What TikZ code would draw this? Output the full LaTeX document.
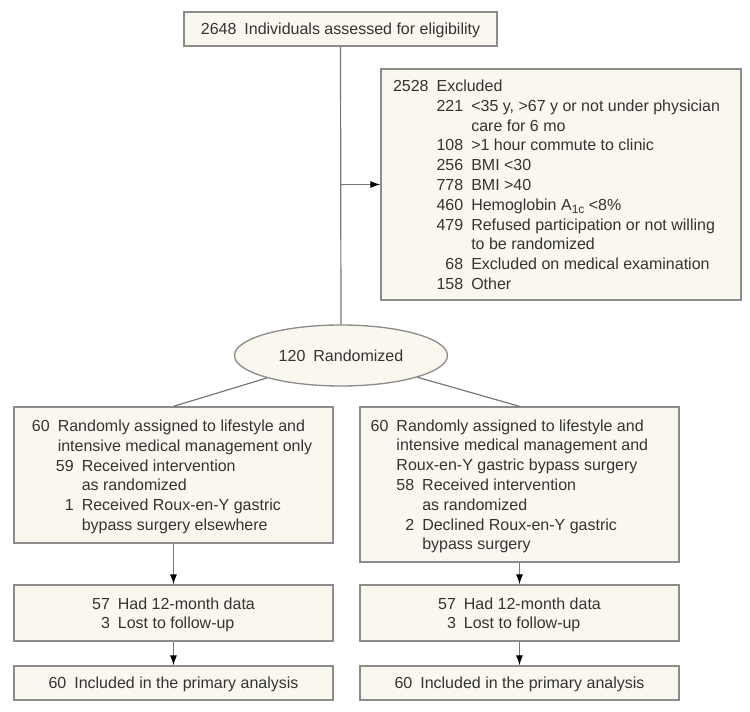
\documentclass[tikz,border=0pt]{standalone}
\usepackage{fontspec}
\setmainfont{Liberation Sans}
\usetikzlibrary{shapes.geometric,arrows.meta}
\definecolor{boxfill}{HTML}{FAF8EE}
\definecolor{boxline}{HTML}{8C8C8C}
\definecolor{txt}{HTML}{333333}
\definecolor{conn}{HTML}{777777}
\newcommand\fs{\fontsize{12}{14.85}\selectfont\setbox\strutbox\hbox{\vrule height 11.88pt depth 2.97pt width 0pt}}
\newcommand\gp{\hspace{0.5em}}
\newcommand\nb[2]{\makebox[#1][r]{#2}\gp}
\newcommand\tbl[1]{\fs\begin{tabular}{@{}l@{}}#1\end{tabular}}
\newcommand\tbr[1]{\fs\begin{tabular}{@{}r@{\hspace{0.5em}}l@{}}#1\end{tabular}}
\newcommand\lowsub[1]{\raisebox{-2.8pt}{\fontsize{9}{9}\selectfont #1}}
\begin{document}
\begin{tikzpicture}[x=0.75pt,y=-0.75pt,
  box/.style={draw=boxline, fill=boxfill, line width=1pt, text=txt, inner sep=0pt},
  colbox/.style={box, minimum width=239.25pt},
  conn/.style={draw=conn, line width=0.9pt},
  arr/.style={conn, -{Latex[length=7.5pt,width=5.25pt,color=black]}}]
\useasboundingbox (0,0) rectangle (750,712);

\node[box, minimum width=234.75pt, minimum height=25.5pt] (top) at (340.5,29)
  {\tbl{2648\gp Individuals assessed for eligibility}};

\node[box, minimum width=270pt, minimum height=173.25pt, text width=252pt, inner xsep=9pt, align=left] (excl) at (561,184.5)
  {\tbl{2528\gp Excluded\\
  \hspace{2.724em}\nb{1.668em}{221}<35 y, >67 y or not under physician\\
  \hspace{4.892em}care for 6 mo\\
  \hspace{2.724em}\nb{1.668em}{108}>1 hour commute to clinic\\
  \hspace{2.724em}\nb{1.668em}{256}BMI <30\\
  \hspace{2.724em}\nb{1.668em}{778}BMI >40\\
  \hspace{2.724em}\nb{1.668em}{460}Hemoglobin A\lowsub{1c} <8\%\\
  \hspace{2.724em}\nb{1.668em}{479}Refused participation or not willing\\
  \hspace{4.892em}to be randomized\\
  \hspace{2.724em}\nb{1.668em}{68}Excluded on medical examination\\
  \hspace{2.724em}\nb{1.668em}{158}Other}};

\node[ellipse, box, minimum width=159.75pt, minimum height=45.75pt] (rand) at (341,355.5)
  {\tbl{120\gp Randomized}};

\node[colbox, minimum height=102pt, text width=212.25pt, inner xsep=13.5pt, align=left] (left) at (173.5,475)
  {\tbl{\nb{1.112em}{60}Randomly assigned to lifestyle and\\
  \hspace{1.612em}intensive medical management only\\
  \hspace{1.5em}\nb{1.112em}{59}Received intervention\\
  \hspace{3.112em}as randomized\\
  \hspace{1.5em}\nb{1.112em}{1}Received Roux-en-Y gastric\\
  \hspace{3.112em}bypass surgery elsewhere}};

\node[colbox, minimum height=116.25pt, text width=223.25pt, inner xsep=8pt, align=left] (right) at (519.5,484.5)
  {\tbl{\nb{1.112em}{60}Randomly assigned to lifestyle and\\
  \hspace{1.612em}intensive medical management and\\
  \hspace{1.612em}Roux-en-Y gastric bypass surgery\\
  \hspace{1.612em}\nb{1.112em}{58}Received intervention\\
  \hspace{3.224em}as randomized\\
  \hspace{1.612em}\nb{1.112em}{2}Declined Roux-en-Y gastric\\
  \hspace{3.224em}bypass surgery}};

\node[colbox, minimum height=42pt] (lfu) at (173.5,613)
  {\tbr{57 & Had 12-month data\\ 3 & Lost to follow-up}};
\node[colbox, minimum height=42pt] (rfu) at (519.5,613)
  {\tbr{57 & Had 12-month data\\ 3 & Lost to follow-up}};

\node[colbox, minimum height=25.5pt] (lan) at (173.5,683)
  {\tbl{60\gp Included in the primary analysis}};
\node[colbox, minimum height=25.5pt] (ran) at (519.5,683)
  {\tbl{60\gp Included in the primary analysis}};

\draw[conn] (top.south) -- (rand.north);
\draw[arr] (top.south |- excl.west) -- (excl.west);
\draw[conn] (rand) -- (left.north);
\draw[conn] (rand) -- (right.north);
\draw[arr] (left.south) -- (lfu.north);
\draw[arr] (right.south) -- (rfu.north);
\draw[arr] (lfu.south) -- (lan.north);
\draw[arr] (rfu.south) -- (ran.north);
\end{tikzpicture}
\end{document}
